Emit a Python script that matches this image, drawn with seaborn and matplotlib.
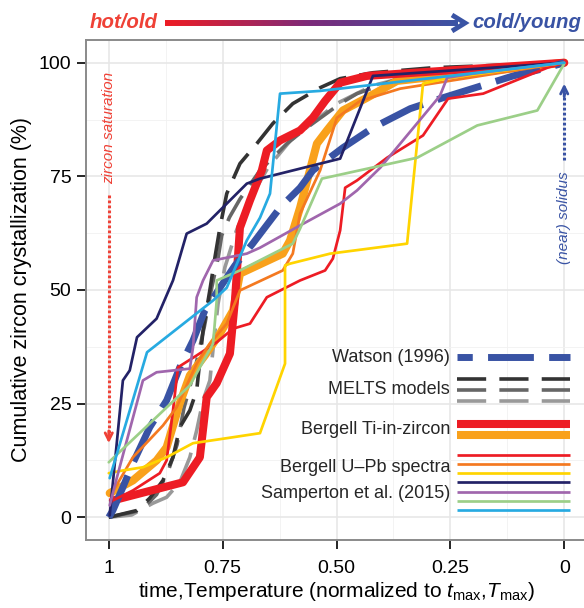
import numpy as np
import matplotlib
matplotlib.use("Agg")
import matplotlib.pyplot as plt
import seaborn as sns
from matplotlib.collections import LineCollection
from matplotlib.colors import LinearSegmentedColormap

# normalized time/temperature (1 = hot/old, 0 = cold/young) and cumulative %
watson_x = [1.0, 0.991, 0.969, 0.947, 0.91, 0.873, 0.844, 0.815, 0.789, 0.756, 0.723, 0.684,
            0.624, 0.58, 0.552, 0.486, 0.42, 0.338, 0.266, 0.112, 0.037, 0.0]
watson_y = [0, 1.5, 6.6, 11.9, 19.8, 25.7, 33.0, 38.9, 45.5, 50.5, 55.4, 60.2,
            68.1, 72.5, 76.3, 81.3, 85.7, 89.9, 92.3, 97.1, 98.9, 100]

melts1_x = [1.0, 0.938, 0.91, 0.881, 0.859, 0.844, 0.822, 0.807, 0.793, 0.778, 0.767, 0.756,
            0.741, 0.712, 0.675, 0.64, 0.596, 0.536, 0.492, 0.42, 0.288, 0.0]
melts1_y = [0, 1.5, 4.2, 8.1, 13.2, 19.8, 23.5, 27.9, 41.1, 50.0, 57.1, 63.7,
            71.2, 77.8, 82.2, 86.6, 91.0, 94.5, 96.5, 97.8, 98.9, 100]
melts2_x = [1.0, 0.93, 0.895, 0.87, 0.85, 0.835, 0.81, 0.79, 0.775, 0.76, 0.752, 0.735,
            0.712, 0.668, 0.609, 0.565, 0.492, 0.455, 0.35, 0.0]
melts2_y = [0, 1.5, 5, 10, 16, 24, 33, 42, 50, 57, 62, 66,
            70, 76.3, 82.2, 85.7, 91, 93.2, 97, 100]
melts3_x = [1.0, 0.95, 0.903, 0.873, 0.844, 0.822, 0.807, 0.793, 0.778, 0.77, 0.76, 0.745,
            0.72, 0.69, 0.65, 0.6, 0.55, 0.5, 0.42, 0.3, 0.0]
melts3_y = [0, 0.5, 3.1, 4.4, 7.7, 13.2, 19.1, 25.7, 30.1, 38, 47, 55,
            63, 70, 77, 83, 87, 91, 95, 98, 100]

ti_red_x = [0.991, 0.837, 0.8, 0.785, 0.763, 0.734, 0.723, 0.712, 0.69, 0.664, 0.653, 0.624,
            0.58, 0.552, 0.525, 0.492, 0.433, 0.0]
ti_red_y = [3.7, 7.7, 13.2, 26.4, 29.5, 36.0, 47.7, 63.7, 69.7, 76.3, 80.7, 82.9,
            85.1, 87.9, 91.6, 95.6, 97.1, 100]
ti_orange_x = [0.998, 0.947, 0.895, 0.873, 0.844, 0.822, 0.789, 0.756, 0.727, 0.712, 0.618,
               0.602, 0.58, 0.543, 0.521, 0.486, 0.433, 0.367, 0.0]
ti_orange_y = [5.3, 8.1, 12.5, 15.4, 25.1, 31.2, 35.6, 40.4, 45.5, 53.6, 58.0,
               60.9, 68.1, 82.2, 85.1, 89.5, 92.3, 96.0, 100]

upb_red_x = [0.991, 0.947, 0.888, 0.873, 0.859, 0.848, 0.807, 0.763, 0.727, 0.69, 0.653, 0.58,
             0.525, 0.508, 0.492, 0.481, 0.455, 0.389, 0.31, 0.255, 0.178, 0.037, 0.0]
upb_red_y = [3.7, 5.9, 9.7, 12.5, 23.5, 33.0, 35.6, 38.5, 41.5, 42.6, 48.4, 52.1,
             54.3, 56.9, 63.1, 72.5, 74.1, 79.1, 84.0, 92.1, 93.2, 98.9, 100]
upb_orange_x = [0.996, 0.947, 0.881, 0.851, 0.829, 0.807, 0.778, 0.741, 0.712, 0.618, 0.596,
                0.58, 0.536, 0.499, 0.448, 0.36, 0.0]
upb_orange_y = [4.8, 13.2, 20.2, 24.2, 29.0, 33.8, 38.2, 42.6, 49.9, 54.3, 58.0,
                66.8, 76.3, 87.9, 91.6, 94.3, 100]
upb_yellow_x = [1.0, 0.969, 0.925, 0.873, 0.815, 0.741, 0.668, 0.613, 0.613, 0.602, 0.514,
                0.345, 0.31, 0.251, 0.0]
upb_yellow_y = [9.7, 10.3, 11.0, 13.2, 16.3, 17.4, 18.5, 33.8, 55.4, 55.8, 58.0,
                60.2, 95.4, 96.7, 100]

samp_navy_x = [0.998, 0.969, 0.954, 0.938, 0.895, 0.859, 0.829, 0.785, 0.697, 0.668, 0.492, 0.42, 0.0]
samp_navy_y = [0.4, 30.1, 32.3, 39.6, 43.7, 52.1, 62.4, 64.6, 73.4, 74.5, 78.9, 97.1, 100]
samp_purple_x = [0.998, 0.982, 0.925, 0.895, 0.822, 0.815, 0.807, 0.793, 0.771, 0.697, 0.668,
                 0.58, 0.492, 0.455, 0.404, 0.273, 0.257, 0.2, 0.0]
samp_purple_y = [2.6, 8.8, 30.1, 31.9, 32.7, 37.4, 48.4, 52.1, 56.5, 58.0, 59.3,
                 64.2, 69.0, 71.9, 76.9, 92.7, 96.7, 97.6, 100]
samp_green_x = [1.0, 0.822, 0.771, 0.763, 0.763, 0.712, 0.596, 0.58, 0.532, 0.323, 0.191, 0.059, 0.0]
samp_green_y = [12.1, 29.0, 38.2, 47.7, 52.1, 54.3, 60.2, 63.5, 74.5, 79.1, 86.2, 89.5, 99.8]
samp_cyan_x = [0.998, 0.916, 0.771, 0.741, 0.697, 0.668, 0.646, 0.624, 0.536, 0.0]
samp_cyan_y = [8.6, 36.3, 47.7, 50.5, 60.9, 65.9, 71.2, 93.2, 93.8, 100]

x_ticks = [1, 0.75, 0.5, 0.25, 0]
x_tick_labels = ["1", "0.75", "0.50", "0.25", "0"]
y_ticks = [0, 25, 50, 75, 100]

legend_groups = ["Watson (1996)", "MELTS models", "Bergell Ti-in-zircon",
                 "Bergell U\u2013Pb spectra", "Samperton et al. (2015)"]

sns.set_theme(style="whitegrid")
plt.rcParams['font.family'] = ['Liberation Sans', 'DejaVu Sans']
plt.rcParams['mathtext.fontset'] = 'custom'
plt.rcParams['mathtext.rm'] = 'Liberation Sans'
plt.rcParams['mathtext.it'] = 'Liberation Sans:italic'
plt.rcParams['lines.scale_dashes'] = False

RED = "#ed1c24"
ORANGE = "#f9a11b"
BLUE = "#3953a4"
THIN = 1.95

fig = plt.figure(figsize=(5.84, 6.08), dpi=100)
ax = fig.add_axes([86 / 584, 68 / 608, 501 / 584, 500 / 608])

melts_dash = (0, (21, 9.5))
watson_dash = (0, (33, 11))

series = [
    (melts3_x, melts3_y, "#999999", 2.6, melts_dash),
    (melts2_x, melts2_y, "#666666", 2.6, melts_dash),
    (melts1_x, melts1_y, "#333333", 2.6, melts_dash),
    (ti_orange_x, ti_orange_y, ORANGE, 5.8, "-"),
    (ti_red_x, ti_red_y, RED, 5.8, "-"),
    (watson_x, watson_y, BLUE, 5.0, watson_dash),
    (upb_red_x, upb_red_y, RED, THIN, "-"),
    (upb_orange_x, upb_orange_y, "#f47920", THIN, "-"),
    (upb_yellow_x, upb_yellow_y, "#ffd400", THIN, "-"),
    (samp_navy_x, samp_navy_y, "#232267", THIN, "-"),
    (samp_purple_x, samp_purple_y, "#a066ad", THIN, "-"),
    (samp_green_x, samp_green_y, "#9ccf88", THIN, "-"),
    (samp_cyan_x, samp_cyan_y, "#27aae1", THIN, "-"),
]
for xs, ys, col, lw, ls in series:
    sns.lineplot(x=np.array(xs), y=np.array(ys), ax=ax, color=col, linewidth=lw,
                 linestyle=ls, sort=False, estimator=None, solid_joinstyle="round")

ax.set_xlim(1.05, -0.05)
ax.set_ylim(-5, 105)
ax.set_xticks(x_ticks)
ax.set_xticklabels(x_tick_labels)
ax.set_yticks(y_ticks)
ax.set_xticks([0.875, 0.625, 0.375, 0.125], minor=True)
ax.set_yticks([12.5, 37.5, 62.5, 87.5], minor=True)
ax.grid(which="major", color="#e6e6e6", linewidth=1.1)
ax.grid(which="minor", color="#f1f1f1", linewidth=0.6)
ax.set_facecolor("white")
for s in ax.spines.values():
    s.set_color("#8a8a8a")
    s.set_linewidth(1.4)
ax.tick_params(axis="both", which="major", length=6.5, width=1.2, color="black",
               labelsize=14, labelcolor="black", direction="out")
ax.tick_params(axis="x", pad=8)
ax.tick_params(axis="y", pad=4)
ax.tick_params(which="minor", length=0)
ax.xaxis.set_ticks_position("bottom")
ax.yaxis.set_ticks_position("left")

ax.set_xlabel(r"time,Temperature (normalized to $t_{\mathrm{max}}$,$T_{\mathrm{max}}$)",
              fontsize=15, color="black", labelpad=2)
ax.set_ylabel("Cumulative zircon crystallization (%)", fontsize=15.5, color="black", labelpad=5)

# annotations: dotted arrows
dot = (0, (2.0, 1.6))
ax.text(1.0, 85.7, "zircon saturation", rotation=90, color="#ef4136", fontsize=11,
        style="italic", ha="center", va="center")
ax.plot([1.0, 1.0], [70.8, 17.0], color="#ef4136", lw=2.2, linestyle=dot)
ax.annotate("", xy=(1.0, 16.3), xytext=(1.0, 19.0),
            arrowprops=dict(arrowstyle="->", color="#ef4136", lw=2.0,
                            mutation_scale=13, shrinkA=0, shrinkB=0))
ax.text(0.0, 66.0, "(near) solidus", rotation=90, color=BLUE, fontsize=11,
        style="italic", ha="center", va="center")
ax.plot([0.0, 0.0], [78.5, 94.5], color=BLUE, lw=2.2, linestyle=dot)
ax.annotate("", xy=(0.0, 95.4), xytext=(0.0, 92.5),
            arrowprops=dict(arrowstyle="->", color=BLUE, lw=2.0,
                            mutation_scale=13, shrinkA=0, shrinkB=0))

# manual legend (axes fraction)
tr = ax.transAxes
lx = [0.741, 0.966]
txt_x = 0.727
ax.plot(lx, [0.366, 0.366], transform=tr, color=BLUE, lw=5.0, linestyle=(22, (33, 11)))
ax.text(txt_x, 0.366, legend_groups[0], transform=tr, ha="right", va="center", fontsize=13)
for yy, c in zip([0.322, 0.300, 0.278], ["#333333", "#666666", "#999999"]):
    ax.plot(lx, [yy, yy], transform=tr, color=c, lw=2.6, linestyle=melts_dash)
ax.text(txt_x, 0.300, legend_groups[1], transform=tr, ha="right", va="center", fontsize=13)
for yy, c in zip([0.232, 0.210], [RED, ORANGE]):
    ax.plot(lx, [yy, yy], transform=tr, color=c, lw=5.8, solid_capstyle="butt")
ax.text(txt_x, 0.222, legend_groups[2], transform=tr, ha="right", va="center", fontsize=13)
for yy, c in zip([0.170, 0.152, 0.134], [RED, "#f47920", "#ffd400"]):
    ax.plot(lx, [yy, yy], transform=tr, color=c, lw=THIN, solid_capstyle="butt")
ax.text(txt_x, 0.144, legend_groups[3], transform=tr, ha="right", va="center", fontsize=13)
for yy, c in zip([0.116, 0.096, 0.078, 0.060], ["#232267", "#a066ad", "#9ccf88", "#27aae1"]):
    ax.plot(lx, [yy, yy], transform=tr, color=c, lw=THIN, solid_capstyle="butt")
ax.text(txt_x, 0.094, legend_groups[4], transform=tr, ha="right", va="center", fontsize=13)

# header: hot/old -> cold/young gradient arrow (figure coords)
hy = 1 - 23 / 608
fig.text(158 / 584, hy, "hot/old", ha="right", va="center", color="#ef4136",
         fontsize=14.7, fontweight="bold", style="italic")
fig.text(472 / 584, hy, "cold/young", ha="left", va="center", color=BLUE,
         fontsize=14.7, fontweight="bold", style="italic")
cmap = LinearSegmentedColormap.from_list("hc", [RED, "#7b2a7a", BLUE])
gx = np.linspace(165, 458, 120) / 584
segs = [[(gx[i], hy), (gx[i + 1], hy)] for i in range(len(gx) - 1)]
lc = LineCollection(segs, colors=cmap(np.linspace(0, 1, len(segs))), linewidths=4.3,
                    transform=fig.transFigure)
fig.add_artist(lc)
head = plt.Line2D([452 / 584, 465 / 584, 452 / 584],
                  [hy + 8 / 608, hy, hy - 8 / 608], transform=fig.transFigure,
                  color=BLUE, lw=3.5, solid_joinstyle="miter", solid_capstyle="butt")
fig.add_artist(head)

fig.savefig("out.png", dpi=100)
